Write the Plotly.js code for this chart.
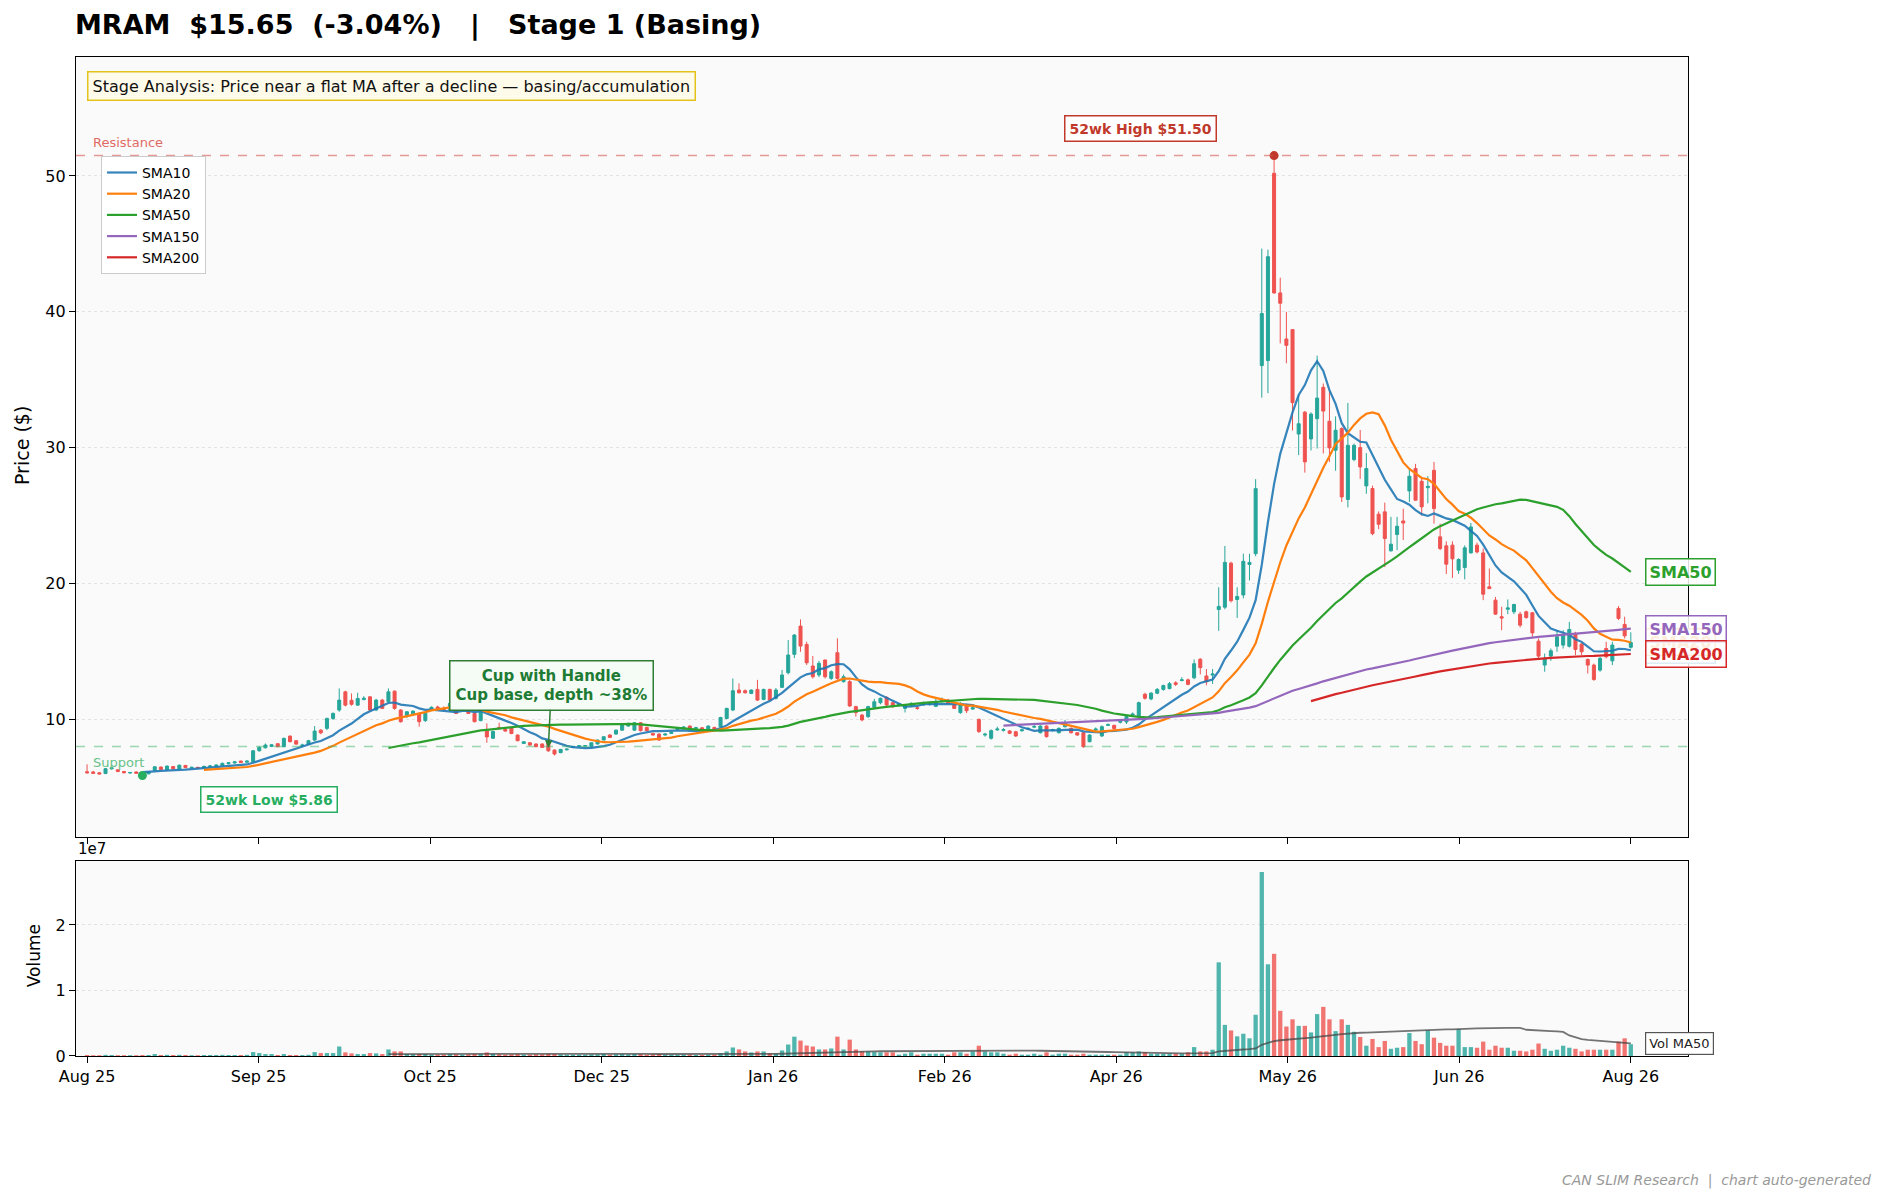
<!DOCTYPE html>
<html>
<head>
<meta charset="utf-8">
<script src="https://cdn.plot.ly/plotly-3.0.1.min.js"></script>
<style>
  html, body { margin: 0; padding: 0; background: #ffffff; }
  #chart { width: 1886px; height: 1203px; }
</style>
</head>
<body>
<div id="chart"></div>
<script>
// MRAM daily bars, index 0 = Aug 2025 ... 251 = Aug 2026
var opens = [
  6.14, 6.12, 6.06, 6.00, 6.36, 6.28, 6.15, 6.04, 6.12, 6.02,
  5.98, 6.24, 6.48, 6.28, 6.52, 6.34, 6.60, 6.42, 6.46, 6.42,
  6.50, 6.55, 6.58, 6.72, 6.78, 6.92, 6.84, 6.87, 7.68, 7.90,
  8.00, 8.20, 7.98, 8.76, 8.42, 8.05, 8.17, 8.47, 9.20, 9.33,
  10.06, 10.68, 12.02, 11.40, 11.04, 11.45, 11.65, 10.68, 11.41, 11.29,
  12.07, 10.68, 10.20, 10.40, 10.43, 9.90, 10.70, 10.90, 10.80, 10.70,
  10.80, 10.76, 10.68, 10.43, 9.90, 9.20, 8.60, 9.40, 9.25, 9.40,
  8.84, 8.22, 8.27, 8.18, 8.18, 8.34, 7.73, 7.54, 7.75, 7.93,
  8.00, 8.04, 7.98, 8.18, 8.47, 8.84, 8.91, 9.20, 9.50, 9.20,
  9.74, 9.40, 8.96, 8.91, 8.84, 8.96, 9.25, 9.38, 9.50, 9.34,
  9.37, 9.25, 9.40, 9.45, 10.06, 10.68, 12.15, 12.10, 11.90, 12.20,
  11.46, 12.20, 11.54, 12.35, 13.43, 14.78, 16.86, 15.51, 13.92, 13.26,
  14.36, 13.01, 14.90, 12.77, 12.77, 10.93, 10.31, 10.19, 10.88, 11.22,
  11.61, 11.22, 11.00, 10.80, 11.00, 10.85, 11.05, 11.10, 10.95, 11.30,
  11.42, 11.05, 10.49, 11.05, 10.75, 9.99, 8.84, 8.60, 9.22, 9.18,
  9.14, 9.08, 9.15, 9.28, 9.42, 9.01, 9.50, 9.18, 9.01, 9.45,
  9.33, 9.01, 9.01, 8.35, 9.20, 8.77, 9.55, 9.55, 9.78, 9.80,
  10.30, 10.23, 11.84, 11.50, 11.92, 12.20, 12.26, 12.68, 12.85, 12.90,
  13.05, 14.42, 13.19, 13.25, 18.08, 18.25, 21.49, 18.82, 19.15, 21.40,
  22.19, 36.04, 36.41, 50.20, 41.39, 38.00, 38.69, 31.00, 32.61, 30.64,
  32.13, 34.44, 31.94, 29.81, 31.40, 26.18, 29.12, 30.00, 27.18, 26.99,
  25.10, 25.27, 22.40, 23.60, 24.60, 26.81, 28.46, 27.52, 27.05, 28.33,
  23.43, 22.77, 22.82, 20.98, 21.17, 22.25, 22.82, 22.25, 19.75, 18.77,
  17.55, 18.10, 17.91, 17.74, 17.91, 17.84, 15.75, 13.99, 14.65, 15.38,
  15.46, 15.38, 16.32, 15.53, 14.40, 13.99, 13.62, 15.21, 14.30, 18.16,
  16.98, 15.30
];
var highs = [
  6.68, 6.20, 6.10, 6.40, 6.50, 6.32, 6.20, 6.12, 6.16, 6.05,
  6.16, 6.55, 6.52, 6.60, 6.56, 6.66, 6.64, 6.50, 6.50, 6.60,
  6.64, 6.68, 6.82, 6.86, 6.92, 6.96, 6.98, 7.72, 8.00, 8.22,
  8.18, 8.24, 8.66, 8.80, 8.46, 8.20, 8.48, 9.50, 9.28, 10.12,
  10.50, 12.27, 12.10, 11.90, 11.95, 11.70, 11.70, 11.50, 11.50, 12.27,
  12.12, 10.75, 10.60, 10.65, 10.50, 10.50, 10.95, 11.00, 10.95, 11.25,
  10.90, 10.90, 10.75, 10.50, 10.60, 9.70, 9.15, 9.75, 9.30, 9.45,
  8.88, 8.40, 8.30, 8.22, 8.22, 8.38, 7.78, 7.82, 7.85, 8.02,
  8.08, 8.10, 8.30, 8.50, 8.75, 8.90, 9.23, 9.60, 9.75, 9.78,
  9.78, 9.45, 9.00, 8.95, 8.95, 9.08, 9.42, 9.48, 9.55, 9.45,
  9.42, 9.55, 9.45, 10.18, 10.85, 13.00, 12.64, 12.20, 12.20, 12.90,
  12.25, 12.25, 12.30, 13.63, 15.83, 16.27, 17.35, 15.71, 14.66, 14.30,
  14.40, 13.60, 15.96, 13.30, 12.90, 11.00, 10.40, 11.00, 11.50, 11.60,
  11.70, 11.30, 11.20, 11.12, 11.25, 10.95, 11.30, 11.30, 11.50, 11.60,
  11.50, 11.10, 11.25, 11.15, 11.00, 10.05, 9.00, 9.25, 9.45, 9.35,
  9.20, 9.15, 9.30, 9.40, 9.60, 9.55, 9.55, 9.30, 9.40, 9.95,
  9.40, 9.05, 9.05, 8.90, 9.40, 9.55, 9.70, 9.60, 9.90, 10.28,
  10.50, 11.30, 11.95, 12.00, 12.30, 12.55, 12.75, 12.80, 13.10, 13.00,
  14.40, 14.50, 13.70, 13.70, 19.72, 22.76, 21.60, 19.72, 22.19, 22.19,
  27.68, 44.65, 44.57, 51.50, 42.51, 40.00, 38.70, 33.87, 32.70, 32.60,
  36.77, 34.72, 34.15, 32.30, 31.50, 33.29, 30.30, 31.30, 29.60, 27.20,
  25.30, 25.95, 24.90, 24.90, 25.50, 28.46, 28.80, 27.70, 27.90, 28.95,
  24.40, 23.10, 23.10, 21.85, 22.80, 24.45, 23.00, 22.57, 21.10, 19.00,
  18.28, 18.82, 18.50, 17.91, 18.00, 17.90, 15.95, 14.84, 15.21, 16.56,
  16.56, 17.17, 16.44, 15.60, 14.48, 14.10, 14.60, 15.70, 15.70, 18.33,
  17.55, 16.40
];
var lows = [
  6.00, 5.98, 5.94, 5.98, 6.30, 6.10, 6.02, 6.00, 5.98, 5.86,
  5.95, 6.20, 6.26, 6.25, 6.30, 6.30, 6.40, 6.38, 6.38, 6.40,
  6.46, 6.50, 6.55, 6.68, 6.74, 6.78, 6.80, 6.85, 7.62, 7.85,
  7.95, 7.94, 7.94, 8.30, 8.12, 8.00, 8.12, 8.40, 8.90, 9.20,
  9.95, 10.55, 10.95, 11.00, 11.00, 11.40, 10.60, 10.60, 10.75, 11.20,
  10.70, 9.75, 10.10, 10.30, 9.45, 9.80, 10.60, 10.75, 10.65, 10.65,
  10.38, 10.70, 10.40, 9.78, 9.85, 8.27, 8.55, 9.25, 9.08, 8.90,
  8.38, 8.18, 8.05, 7.95, 7.90, 7.60, 7.33, 7.50, 7.70, 7.88,
  7.95, 7.98, 7.95, 8.15, 8.45, 8.62, 8.88, 9.15, 9.45, 9.15,
  9.10, 9.12, 8.80, 8.40, 8.80, 8.92, 9.20, 9.33, 9.30, 9.30,
  9.25, 9.20, 9.20, 9.40, 10.00, 10.60, 11.90, 11.90, 11.85, 11.35,
  11.40, 11.35, 11.45, 12.30, 13.30, 14.50, 14.97, 14.00, 13.00, 13.10,
  13.00, 12.90, 12.90, 12.70, 10.90, 10.19, 9.85, 10.10, 10.80, 11.10,
  10.95, 10.85, 10.95, 10.50, 10.90, 10.70, 11.00, 11.00, 10.90, 11.25,
  11.10, 10.75, 10.40, 10.45, 10.70, 9.00, 8.72, 8.50, 9.15, 9.10,
  8.90, 8.70, 9.10, 9.20, 9.35, 8.95, 8.65, 9.10, 8.95, 9.40,
  8.95, 8.78, 7.90, 8.30, 9.15, 8.70, 9.50, 9.20, 9.70, 9.65,
  10.25, 10.20, 11.45, 11.40, 11.85, 12.10, 12.20, 12.45, 12.80, 12.50,
  12.95, 13.30, 12.50, 12.60, 16.51, 18.10, 18.60, 17.46, 18.90, 20.22,
  22.00, 33.68, 34.01, 41.33, 37.67, 36.21, 31.26, 29.45, 28.16, 29.79,
  29.93, 29.57, 28.95, 28.30, 26.00, 25.60, 29.00, 27.70, 26.60, 23.55,
  24.00, 21.20, 22.35, 22.45, 23.20, 26.00, 26.10, 25.00, 25.90, 24.40,
  22.45, 20.70, 20.40, 20.70, 20.30, 22.20, 22.20, 18.77, 19.60, 17.70,
  16.56, 17.74, 17.74, 16.76, 17.40, 16.07, 14.48, 13.50, 14.30, 14.97,
  15.21, 15.28, 14.72, 14.72, 13.37, 12.83, 13.50, 14.48, 13.99, 17.30,
  15.95, 15.20
];
var closes = [
  6.06, 6.02, 5.97, 6.36, 6.42, 6.16, 6.06, 6.08, 6.02, 5.95,
  6.12, 6.50, 6.30, 6.55, 6.35, 6.62, 6.44, 6.46, 6.42, 6.52,
  6.56, 6.62, 6.75, 6.80, 6.86, 6.82, 6.92, 7.68, 7.93, 8.10,
  8.12, 7.98, 8.59, 8.35, 8.17, 8.10, 8.42, 9.13, 9.00, 10.06,
  10.43, 11.41, 11.04, 11.10, 11.53, 11.55, 10.68, 11.41, 10.80, 12.02,
  10.80, 9.82, 10.55, 10.60, 9.82, 10.43, 10.88, 10.80, 10.72, 11.17,
  10.43, 10.82, 10.43, 9.82, 10.55, 8.70, 9.10, 9.30, 9.13, 8.95,
  8.42, 8.34, 8.10, 7.98, 7.93, 7.68, 7.44, 7.78, 7.80, 8.00,
  8.05, 8.06, 8.27, 8.47, 8.71, 8.66, 9.20, 9.57, 9.70, 9.74,
  9.16, 9.16, 8.84, 8.47, 8.91, 9.03, 9.37, 9.42, 9.33, 9.37,
  9.28, 9.50, 9.25, 10.13, 10.80, 12.10, 11.95, 11.95, 12.15, 11.41,
  12.20, 11.41, 12.15, 13.26, 14.73, 16.20, 15.39, 14.16, 13.13, 14.12,
  13.13, 13.50, 13.01, 13.13, 10.98, 10.49, 9.95, 10.93, 11.29, 11.54,
  11.05, 10.93, 11.12, 11.05, 11.17, 10.80, 11.17, 11.20, 11.22, 11.42,
  11.17, 10.80, 11.17, 10.63, 10.85, 9.09, 8.90, 9.16, 9.28, 9.24,
  8.97, 8.77, 9.22, 9.33, 9.47, 9.50, 8.72, 9.24, 9.33, 9.70,
  9.01, 8.84, 7.98, 8.84, 9.28, 9.45, 9.60, 9.32, 9.86, 10.20,
  10.38, 11.22, 11.55, 11.92, 12.20, 12.48, 12.62, 12.57, 12.90, 12.57,
  14.09, 13.80, 12.76, 13.33, 18.31, 21.55, 18.73, 19.04, 21.63, 21.55,
  26.98, 39.87, 44.06, 41.39, 40.63, 37.53, 33.31, 31.76, 28.95, 32.47,
  33.65, 32.69, 29.98, 31.28, 26.37, 30.17, 30.17, 28.58, 28.46, 23.67,
  24.36, 23.31, 22.89, 24.21, 24.45, 27.89, 26.13, 25.64, 27.15, 25.51,
  22.57, 21.42, 21.81, 21.76, 22.62, 24.16, 22.32, 19.21, 19.62, 17.74,
  17.45, 18.20, 18.45, 16.93, 17.49, 16.36, 14.65, 14.48, 15.04, 16.07,
  16.19, 16.61, 15.14, 14.97, 13.99, 12.93, 14.48, 14.60, 15.46, 17.42,
  16.14, 15.65
];
// volume in millions of shares
var volumes = [
  0.15, 0.12, 0.12, 0.18, 0.15, 0.12, 0.12, 0.12, 0.12, 0.15,
  0.15, 0.30, 0.15, 0.18, 0.15, 0.18, 0.15, 0.12, 0.12, 0.15,
  0.15, 0.15, 0.18, 0.15, 0.15, 0.15, 0.18, 0.60, 0.45, 0.30,
  0.30, 0.15, 0.30, 0.15, 0.15, 0.15, 0.18, 0.60, 0.45, 0.45,
  0.45, 1.45, 0.55, 0.40, 0.30, 0.30, 0.45, 0.40, 0.30, 1.00,
  0.70, 0.70, 0.30, 0.25, 0.30, 0.30, 0.20, 0.20, 0.20, 0.30,
  0.25, 0.20, 0.25, 0.30, 0.30, 0.55, 0.30, 0.25, 0.20, 0.25,
  0.30, 0.20, 0.20, 0.25, 0.25, 0.35, 0.30, 0.25, 0.20, 0.20,
  0.20, 0.20, 0.25, 0.25, 0.30, 0.20, 0.25, 0.30, 0.25, 0.30,
  0.30, 0.20, 0.20, 0.30, 0.20, 0.20, 0.20, 0.20, 0.20, 0.15,
  0.15, 0.20, 0.20, 0.40, 0.70, 1.30, 1.00, 0.70, 0.55, 0.70,
  0.70, 0.40, 0.40, 0.85, 1.75, 2.95, 2.35, 1.60, 1.45, 1.00,
  1.00, 1.15, 2.95, 1.00, 2.50, 1.00, 0.70, 0.70, 0.60, 0.56,
  0.56, 0.56, 0.20, 0.35, 0.56, 0.20, 0.35, 0.35, 0.35, 0.35,
  0.20, 0.56, 0.56, 0.35, 0.70, 1.57, 0.70, 0.56, 0.56, 0.35,
  0.20, 0.35, 0.20, 0.20, 0.35, 0.20, 0.56, 0.20, 0.35, 0.35,
  0.20, 0.20, 0.35, 0.20, 0.20, 0.20, 0.20, 0.20, 0.20, 0.56,
  0.56, 0.70, 0.56, 0.35, 0.35, 0.35, 0.35, 0.35, 0.35, 0.56,
  1.36, 0.70, 0.70, 0.96, 14.3, 4.75, 3.90, 3.00, 3.40, 2.70,
  6.30, 28.1, 14.0, 15.6, 6.90, 4.50, 5.60, 4.60, 4.60, 3.60,
  6.40, 7.50, 5.60, 3.80, 5.60, 4.75, 3.70, 2.90, 1.57, 2.60,
  1.36, 2.30, 1.10, 1.26, 1.36, 3.50, 2.30, 1.80, 3.90, 2.80,
  2.00, 1.57, 1.57, 4.10, 1.36, 1.36, 1.26, 2.20, 0.96, 1.57,
  1.26, 1.26, 0.80, 0.80, 0.70, 0.96, 1.90, 1.10, 0.80, 0.96,
  1.57, 1.26, 1.10, 0.70, 0.96, 0.96, 0.96, 0.96, 0.96, 2.20,
  2.70, 1.80
];
var tickLabels = ['Aug 25', 'Sep 25', 'Oct 25', 'Dec 25', 'Jan 26',
                  'Feb 26', 'Apr 26', 'May 26', 'Jun 26', 'Aug 26'];
var smaWindows = [10, 20, 50, 150, 200];
var smaColors = ['#1f77b4', '#ff7f0e', '#2ca02c', '#9467bd', '#d62728'];
var supportLevel = 8.0;

var UP = '#26a69a', DOWN = '#ef5350';
var FONT = 'DejaVu Sans, Verdana, sans-serif';

var n = closes.length;
var idx = [];
for (var i = 0; i < n; i++) idx.push(i);

function sma(arr, w) {
    var out = [], sum = 0;
    for (var i = 0; i < arr.length; i++) {
        sum += arr[i];
        if (i >= w) sum -= arr[i - w];
        out.push(i >= w - 1 ? sum / w : null);
    }
    return out;
}

// tick spots spread evenly over the bar index (np.linspace style)
var tickPos = [];
for (var k = 0; k < tickLabels.length; k++) tickPos.push(k * (n - 1) / (tickLabels.length - 1));

// 52 week extremes
var hiIdx = 0, loIdx = 0;
for (var i = 1; i < n; i++) {
    if (highs[i] > highs[hiIdx]) hiIdx = i;
    if (lows[i] < lows[loIdx]) loIdx = i;
}

var volShares = volumes.map(function (v) { return v * 1e6; });
var volColors = idx.map(function (i) { return closes[i] >= opens[i] ? UP : DOWN; });
var volMA = sma(volShares, 50);

var candles = {
    type: 'candlestick', x: idx, open: opens, high: highs, low: lows, close: closes,
    xaxis: 'x', yaxis: 'y', showlegend: false, whiskerwidth: 0,
    increasing: { line: { color: UP, width: 1 }, fillcolor: UP },
    decreasing: { line: { color: DOWN, width: 1 }, fillcolor: DOWN }
};

var data = [candles];
var smaSeries = [];
smaWindows.forEach(function (w, j) {
    var s = sma(closes, w);
    smaSeries.push(s);
    data.push({
        type: 'scatter', mode: 'lines', x: idx, y: s, name: 'SMA' + w,
        xaxis: 'x', yaxis: 'y',
        line: { color: smaColors[j], width: 2.2 }, opacity: j === 0 ? 0.9 : 1
    });
});

data.push({
    type: 'scatter', mode: 'markers', x: [hiIdx], y: [highs[hiIdx]],
    marker: { color: '#c0392b', size: 9 }, showlegend: false, xaxis: 'x', yaxis: 'y'
});
data.push({
    type: 'scatter', mode: 'markers', x: [loIdx], y: [lows[loIdx]],
    marker: { color: '#27ae60', size: 9 }, showlegend: false, xaxis: 'x', yaxis: 'y'
});

data.push({
    type: 'bar', x: idx, y: volShares, xaxis: 'x2', yaxis: 'y2',
    marker: { color: volColors, line: { width: 0 } }, opacity: 0.8, showlegend: false
});
data.push({
    type: 'scatter', mode: 'lines', x: idx, y: volMA, xaxis: 'x2', yaxis: 'y2',
    line: { color: 'rgba(70,70,70,0.75)', width: 1.8 }, showlegend: false
});

var annotations = [
    {   // stage box
        xref: 'paper', yref: 'paper', x: 0.0068, y: 0.9705, xanchor: 'left', yanchor: 'middle',
        text: 'Stage Analysis: Price near a flat MA after a decline \u2014 basing/accumulation',
        showarrow: false, font: { family: FONT, size: 16, color: '#111' },
        bgcolor: '#fffbea', bordercolor: '#e3c21b', borderwidth: 1.5, borderpad: 4
    },
    {
        xref: 'paper', yref: 'y', x: 0.0093, y: 52.47, xanchor: 'left', yanchor: 'middle',
        text: 'Resistance', showarrow: false, font: { family: FONT, size: 13, color: '#e06b66' }
    },
    {
        xref: 'paper', yref: 'y', x: 0.0093, y: 6.81, xanchor: 'left', yanchor: 'middle',
        text: 'Support', showarrow: false, font: { family: FONT, size: 13, color: '#66c28a' }
    },
    {
        xref: 'x', yref: 'y', x: 171.3, y: 53.47, xanchor: 'center', yanchor: 'middle',
        text: '<b>52wk High $' + highs[hiIdx].toFixed(2) + '</b>', showarrow: false,
        font: { family: FONT, size: 14, color: '#c0392b' },
        bgcolor: '#ffffff', bordercolor: '#c0392b', borderwidth: 1.5, borderpad: 4
    },
    {
        xref: 'x', yref: 'y', x: 29.6, y: 4.09, xanchor: 'center', yanchor: 'middle',
        text: '<b>52wk Low $' + lows[loIdx].toFixed(2) + '</b>', showarrow: false,
        font: { family: FONT, size: 14, color: '#27ae60' },
        bgcolor: '#ffffff', bordercolor: '#27ae60', borderwidth: 1.5, borderpad: 4
    },
    {   // cup with handle callout
        xref: 'x', yref: 'y', x: 75, y: 7.9, axref: 'x', ayref: 'y', ax: 75.5, ay: 12.52,
        text: '<b>Cup with Handle<br>Cup base, depth ~38%</b>', showarrow: true,
        arrowhead: 2, arrowsize: 1, arrowwidth: 1.5, arrowcolor: '#2e7d32',
        font: { family: FONT, size: 15, color: '#1e7b34' }, align: 'center',
        bgcolor: '#f5fbf5', bordercolor: '#2e7d32', borderwidth: 1.5, borderpad: 5
    },
    {
        xref: 'paper', yref: 'paper', x: -0.0335, y: 0.6116, xanchor: 'center', yanchor: 'middle',
        textangle: -90, text: 'Price ($)', showarrow: false,
        font: { family: FONT, size: 19, color: '#000' }
    },
    {
        xref: 'paper', yref: 'paper', x: -0.026, y: 0.10, xanchor: 'center', yanchor: 'middle',
        textangle: -90, text: 'Volume', showarrow: false,
        font: { family: FONT, size: 17, color: '#000' }
    },
    {
        xref: 'paper', yref: 'paper', x: 0, y: 0.2072, xanchor: 'left', yanchor: 'middle',
        text: '1e7', showarrow: false, font: { family: FONT, size: 15, color: '#000' }
    },
    {
        xref: 'paper', yref: 'paper', x: 1.1148, y: -0.125, xanchor: 'right', yanchor: 'middle',
        text: 'CAN SLIM Research  |  chart auto-generated', showarrow: false,
        font: { family: FONT, size: 14, color: '#999999', style: 'italic' }
    }
];

// end-of-line labels (drawn in order, SMA200 on top)
smaWindows.forEach(function (w, j) {
    annotations.push({
        xref: 'x', yref: 'y', x: n + 1.3, y: smaSeries[j][n - 1], xanchor: 'left', yanchor: 'middle',
        text: '<b>SMA' + w + '</b>', showarrow: false,
        font: { family: FONT, size: 16, color: smaColors[j] },
        bgcolor: 'rgba(255,255,255,0.85)', bordercolor: smaColors[j], borderwidth: 1.5, borderpad: 3
    });
});
annotations.push({
    xref: 'x2', yref: 'y2', x: n + 1.3, y: volMA[n - 1], xanchor: 'left', yanchor: 'middle',
    text: 'Vol MA50', showarrow: false, font: { family: FONT, size: 13, color: '#222' },
    bgcolor: '#ffffff', bordercolor: '#555555', borderwidth: 1.2, borderpad: 3
});

var shapes = [
    {
        type: 'line', xref: 'x domain', yref: 'y', x0: 0, x1: 1, y0: highs[hiIdx], y1: highs[hiIdx],
        line: { color: 'rgba(214,90,80,0.6)', width: 1.5, dash: 'dash' }
    },
    {
        type: 'line', xref: 'x domain', yref: 'y', x0: 0, x1: 1, y0: supportLevel, y1: supportLevel,
        line: { color: 'rgba(60,180,100,0.5)', width: 1.5, dash: 'dash' }
    }
];

var axisCommon = {
    showline: true, linecolor: '#000', linewidth: 1.2, mirror: true,
    ticks: 'outside', ticklen: 6, tickcolor: '#000', zeroline: false,
    tickfont: { family: FONT, size: 16, color: '#000' }
};

var layout = {
    width: 1886, height: 1203,
    margin: { l: 76, r: 198, t: 57, b: 147 },
    paper_bgcolor: '#ffffff', plot_bgcolor: '#fafafa',
    font: { family: FONT, color: '#000' },
    hovermode: false, bargap: 0.3,
    title: {
        text: 'MRAM\u00a0\u00a0$15.65\u00a0\u00a0(-3.04%)\u00a0\u00a0\u00a0|\u00a0\u00a0\u00a0Stage 1 (Basing)',
        xref: 'container', yref: 'container', x: 75 / 1886, xanchor: 'left',
        y: 1 - 24.6 / 1203, yanchor: 'middle',
        font: { family: FONT, size: 27, weight: 'bold', color: '#000' }
    },
    xaxis: Object.assign({}, axisCommon, {
        domain: [0, 1], anchor: 'y', range: [-1.8, 260.3], tickvals: tickPos,
        showticklabels: false, showgrid: false, rangeslider: { visible: false }
    }),
    xaxis2: Object.assign({}, axisCommon, {
        domain: [0, 1], anchor: 'y2', matches: 'x', tickvals: tickPos, ticktext: tickLabels,
        showgrid: false
    }),
    yaxis: Object.assign({}, axisCommon, {
        domain: [0.2192, 1], anchor: 'x', range: [1.33, 58.76], tickvals: [10, 20, 30, 40, 50],
        showgrid: true, gridcolor: '#e2e2e2', griddash: 'dot', gridwidth: 1
    }),
    yaxis2: Object.assign({}, axisCommon, {
        domain: [0, 0.1952], anchor: 'x2', range: [0, 2.977e7],
        tickvals: [0, 1e7, 2e7], ticktext: ['0', '1', '2'],
        showgrid: true, gridcolor: '#e2e2e2', griddash: 'dot', gridwidth: 1
    }),
    legend: {
        x: 0.0155, y: 0.901, xanchor: 'left', yanchor: 'top',
        bgcolor: 'rgba(255,255,255,0.9)', bordercolor: '#cccccc', borderwidth: 1,
        font: { family: FONT, size: 14, color: '#000' }, itemwidth: 30
    },
    annotations: annotations,
    shapes: shapes
};

Plotly.newPlot('chart', data, layout, { displayModeBar: false, staticPlot: true });
</script>
</body>
</html>
